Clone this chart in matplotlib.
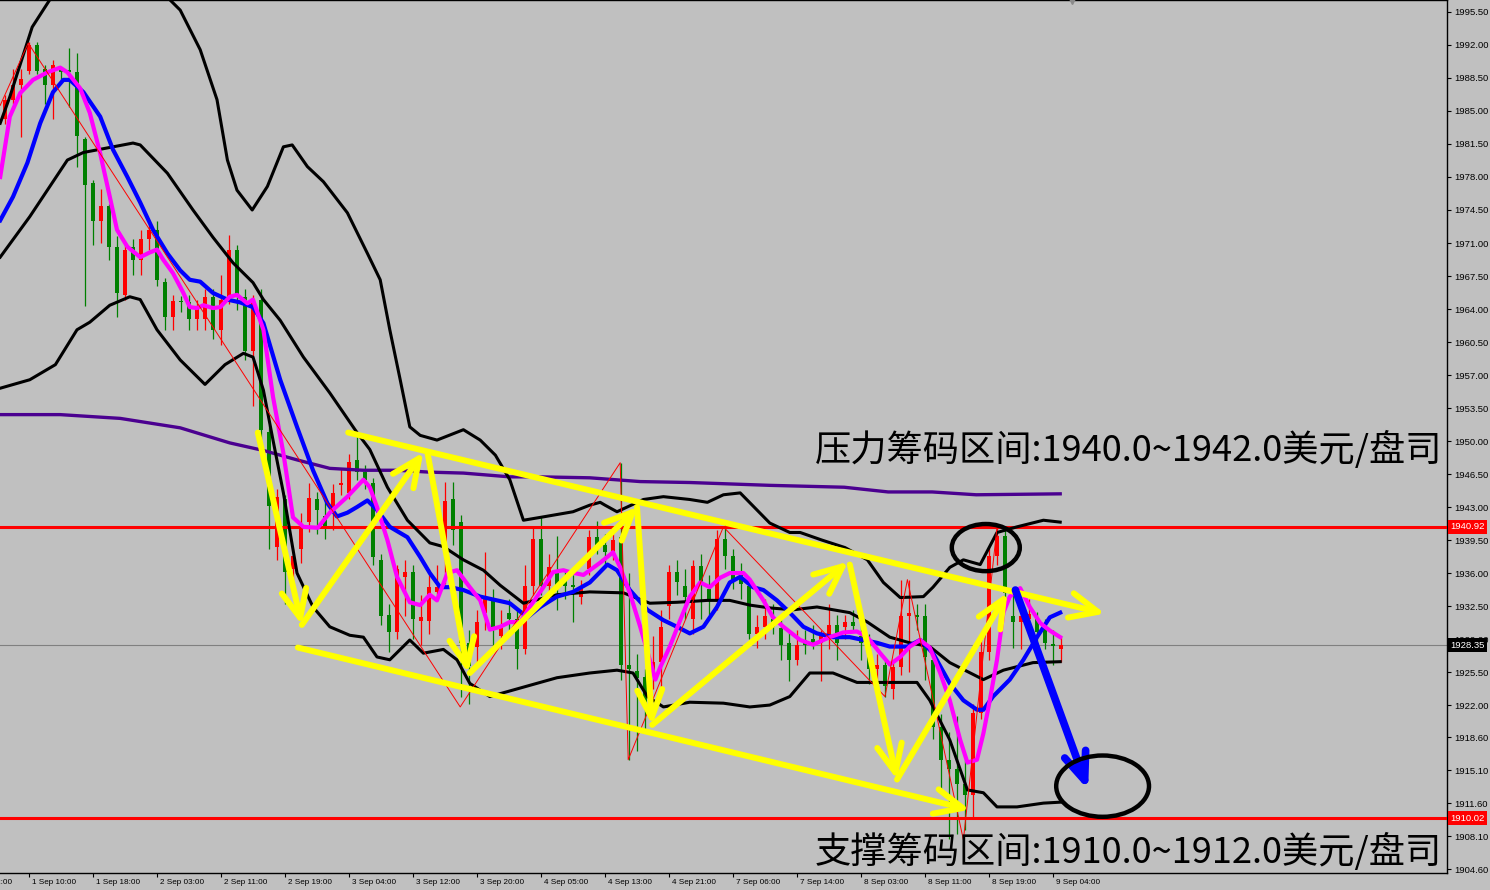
import numpy as np
import matplotlib
matplotlib.use('Agg')
import matplotlib.pyplot as plt
import matplotlib.transforms as mtrans
from matplotlib.patches import Ellipse

# ── candles (hourly bars, index 0..132) ──────────────────────────────────────
OPEN = [1984.1, 1986.2, 1987.8, 1989.2, 1992.0, 1989.4, 1987.8, 1989.4, 1989.3, 1989.1,
        1982.0, 1977.4, 1973.3, 1974.9, 1970.6, 1965.5, 1970.6, 1969.2, 1971.4, 1972.4,
        1966.9, 1963.1, 1964.8, 1964.7, 1962.9, 1962.9, 1965.3, 1961.8, 1965.3, 1970.3,
        1965.3, 1959.5, 1965.0, 1951.0, 1938.8, 1943.8, 1936.4, 1938.5, 1941.4, 1943.8,
        1942.0, 1942.7, 1945.3, 1944.5, 1948.0, 1946.7, 1945.6, 1937.4, 1931.6, 1929.7,
        1935.6, 1936.1, 1930.9, 1930.9, 1934.0, 1938.8, 1943.8, 1941.4, 1928.6, 1928.2,
        1931.8, 1933.2, 1929.3, 1931.8, 1931.1, 1927.9, 1934.6, 1939.6, 1934.6, 1936.1,
        1935.3, 1934.7, 1933.5, 1936.4, 1939.8, 1939.0, 1938.2, 1939.8, 1926.3, 1925.6,
        1925.0, 1925.5, 1926.6, 1932.5, 1936.1, 1934.6, 1931.1, 1936.7, 1934.3, 1933.2,
        1939.6, 1937.8, 1935.8, 1934.6, 1929.5, 1930.3, 1931.1, 1930.2, 1928.6, 1926.8,
        1928.9, 1929.0, 1928.6, 1929.2, 1930.5, 1930.3, 1930.8, 1929.3, 1928.6, 1925.8,
        1926.3, 1923.7, 1926.0, 1931.4, 1931.5, 1931.4, 1926.8, 1919.7, 1916.2, 1915.2,
        1913.6, 1912.5, 1921.2, 1927.6, 1937.8, 1939.9, 1931.4, 1930.8, 1931.1, 1931.1,
        1930.2, 1928.5, 1927.9]
HIGH = [1986.7, 1989.4, 1989.4, 1992.3, 1992.3, 1989.9, 1990.4, 1989.7, 1991.7, 1991.2,
        1982.2, 1977.7, 1976.7, 1975.1, 1971.7, 1970.8, 1971.4, 1972.4, 1973.0, 1973.3,
        1967.3, 1965.5, 1965.4, 1965.5, 1965.0, 1966.1, 1966.1, 1967.6, 1971.9, 1970.8,
        1966.1, 1965.5, 1966.1, 1951.7, 1944.9, 1944.3, 1938.5, 1942.4, 1945.6, 1944.6,
        1943.8, 1945.4, 1947.0, 1948.6, 1950.5, 1947.5, 1946.1, 1938.0, 1932.7, 1936.9,
        1937.4, 1936.9, 1933.7, 1936.4, 1936.9, 1945.7, 1945.7, 1942.2, 1930.0, 1932.1,
        1938.2, 1934.3, 1932.1, 1933.2, 1932.1, 1936.9, 1940.8, 1941.9, 1938.0, 1939.9,
        1936.4, 1935.8, 1935.3, 1940.6, 1941.5, 1940.1, 1940.1, 1947.7, 1936.0, 1927.4,
        1925.8, 1929.3, 1932.1, 1936.9, 1937.4, 1936.4, 1937.4, 1938.0, 1935.8, 1940.6,
        1941.2, 1938.5, 1937.1, 1935.3, 1931.6, 1933.2, 1932.7, 1931.6, 1929.7, 1930.0,
        1930.0, 1930.5, 1930.0, 1932.7, 1931.6, 1931.6, 1932.1, 1930.5, 1929.5, 1927.4,
        1926.8, 1926.8, 1935.3, 1935.3, 1932.7, 1932.7, 1927.4, 1921.0, 1919.1, 1920.8,
        1916.2, 1922.1, 1929.0, 1938.7, 1940.9, 1940.6, 1933.7, 1933.2, 1933.2, 1931.9,
        1931.1, 1930.0, 1929.2]
LOW = [1983.6, 1985.7, 1982.2, 1988.9, 1988.9, 1985.7, 1984.1, 1988.3, 1985.4, 1979.1,
       1964.3, 1970.8, 1971.0, 1969.2, 1963.2, 1965.0, 1967.6, 1967.6, 1970.3, 1966.4,
       1961.8, 1961.8, 1963.7, 1961.8, 1961.8, 1961.8, 1960.8, 1960.2, 1964.5, 1963.9,
       1958.6, 1953.7, 1950.2, 1938.5, 1937.4, 1932.7, 1935.3, 1937.1, 1940.3, 1940.1,
       1939.6, 1940.6, 1944.3, 1943.8, 1945.9, 1944.9, 1936.9, 1930.5, 1927.6, 1929.0,
       1931.4, 1929.0, 1928.4, 1929.5, 1933.2, 1934.8, 1939.0, 1922.9, 1922.1, 1926.3,
       1930.0, 1928.4, 1927.9, 1930.0, 1925.8, 1927.4, 1933.7, 1933.7, 1933.2, 1932.1,
       1933.2, 1930.8, 1932.7, 1935.8, 1938.0, 1936.9, 1937.4, 1924.7, 1916.2, 1917.1,
       1919.4, 1923.7, 1923.7, 1931.1, 1933.7, 1931.1, 1929.5, 1931.1, 1931.6, 1932.1,
       1936.4, 1934.3, 1933.2, 1929.0, 1928.1, 1929.0, 1929.5, 1926.8, 1924.5, 1926.3,
       1927.4, 1927.9, 1924.5, 1927.9, 1926.8, 1929.0, 1929.8, 1926.8, 1924.2, 1923.7,
       1922.9, 1922.6, 1925.2, 1925.5, 1930.0, 1924.7, 1918.4, 1913.1, 1907.8, 1908.3,
       1908.8, 1909.9, 1920.5, 1926.8, 1936.9, 1933.2, 1928.1, 1927.9, 1929.5, 1928.4,
       1927.9, 1926.3, 1926.6]
CLOSE = [1986.2, 1987.8, 1988.4, 1992.0, 1989.2, 1987.8, 1989.9, 1989.1, 1989.1, 1982.3,
         1977.2, 1973.3, 1974.9, 1970.6, 1965.7, 1970.3, 1969.2, 1971.4, 1972.4, 1967.1,
         1963.2, 1964.8, 1964.7, 1962.9, 1964.3, 1965.3, 1961.8, 1965.0, 1970.3, 1965.3,
         1959.5, 1965.0, 1951.2, 1943.1, 1944.1, 1936.1, 1937.8, 1940.9, 1944.0, 1942.7,
         1940.9, 1944.5, 1945.6, 1947.8, 1946.7, 1945.9, 1937.7, 1931.4, 1929.7, 1936.4,
         1936.1, 1931.1, 1931.3, 1934.5, 1934.5, 1943.6, 1940.6, 1928.6, 1926.1, 1930.8,
         1933.2, 1930.3, 1930.3, 1931.1, 1927.9, 1934.6, 1939.6, 1934.6, 1936.6, 1934.6,
         1934.6, 1934.5, 1934.6, 1939.8, 1938.8, 1938.2, 1939.5, 1926.3, 1925.8, 1924.9,
         1921.8, 1926.6, 1930.3, 1936.1, 1935.0, 1933.5, 1936.7, 1935.0, 1933.2, 1939.6,
         1937.8, 1935.3, 1934.8, 1929.5, 1930.3, 1931.4, 1930.3, 1928.4, 1926.8, 1928.4,
         1928.4, 1928.6, 1929.3, 1930.5, 1928.6, 1930.8, 1930.4, 1928.6, 1925.8, 1926.3,
         1924.0, 1926.0, 1931.4, 1931.8, 1931.3, 1927.1, 1919.7, 1916.2, 1915.2, 1913.6,
         1912.5, 1921.2, 1927.6, 1937.8, 1939.9, 1933.9, 1930.8, 1931.4, 1931.7, 1929.7,
         1928.6, 1928.3, 1928.35]

# ── indicator lines (bar index, price) ───────────────────────────────────────
MAG_X = [-0.6, 0.6, 1.9, 3.5, 5.3, 6.9, 7.8, 9.4, 10.6, 11.9, 13.1, 14.0, 15.3, 16.9, 18.1,
         19.0, 19.8, 21.0, 22.3, 23.1, 24.0, 24.8, 26.0, 26.9, 28.1, 29.0, 30.3, 31.0, 32.3,
         33.5, 34.8, 36.0, 37.3, 39.1, 40.6, 42.8, 44.8, 45.6, 46.5, 47.8, 49.0, 50.6, 51.9,
         53.1, 54.0, 55.3, 56.5, 58.1, 59.4, 60.6, 61.9, 63.1, 64.4, 65.6, 67.3, 68.5, 69.8,
         70.6, 72.3, 74.4, 76.0, 76.9, 78.1, 79.4, 80.6, 81.3, 81.9, 83.1, 84.4, 85.6, 86.9,
         88.1, 89.4, 90.6, 92.3, 93.1, 94.8, 96.0, 97.3, 99.4, 101.0, 103.1, 104.8, 106.5,
         107.8, 109.4, 110.6, 111.9, 113.1, 114.4, 115.6, 116.9, 118.1, 119.4, 120.3, 121.5,
         122.3, 123.1, 124.0, 124.8, 125.6, 126.9, 128.1, 129.4, 130.6, 131.9]
MAG_Y = [1978.0, 1984.4, 1986.9, 1988.3, 1989.1, 1989.6, 1989.1, 1987.4, 1984.8, 1980.5,
         1975.9, 1972.4, 1970.6, 1969.5, 1970.0, 1970.3, 1969.2, 1967.8, 1965.7, 1964.2,
         1964.1, 1964.4, 1964.1, 1964.2, 1965.3, 1965.5, 1964.6, 1965.0, 1961.8, 1954.7,
         1948.7, 1941.9, 1940.9, 1940.8, 1942.4, 1944.1, 1945.9, 1945.1, 1943.0, 1939.5,
         1935.6, 1932.9, 1932.6, 1933.7, 1933.1, 1936.0, 1936.3, 1934.5, 1933.1, 1930.0,
         1930.3, 1930.8, 1930.8, 1932.4, 1934.5, 1936.1, 1936.3, 1936.1, 1935.8, 1937.1,
         1938.2, 1936.6, 1933.9, 1930.3, 1926.8, 1924.7, 1926.0, 1928.2, 1931.0, 1933.5,
         1935.0, 1934.5, 1935.5, 1936.0, 1936.0, 1935.3, 1933.1, 1931.3, 1930.3, 1928.9,
         1928.4, 1929.2, 1929.7, 1929.8, 1929.2, 1927.5, 1926.3, 1927.1, 1928.2, 1928.9,
         1928.1, 1925.4, 1922.5, 1918.3, 1915.9, 1916.2, 1919.0, 1922.5, 1926.8, 1931.8,
         1933.5, 1934.4, 1932.4, 1930.7, 1929.9, 1929.2]

BLUE_X = [-0.6, 1.0, 2.8, 4.4, 6.0, 7.3, 8.1, 9.8, 11.9, 13.5, 15.3, 16.9, 18.5, 20.3, 21.9,
          23.1, 24.4, 26.0, 27.8, 29.4, 31.0, 32.3, 34.4, 36.5, 38.5, 40.3, 41.5, 42.8, 44.0,
          45.3, 46.5, 48.1, 50.3, 51.9, 53.1, 54.4, 55.6, 57.3, 59.4, 61.5, 63.1, 65.3, 66.9,
          69.0, 71.0, 73.1, 75.3, 76.5, 78.1, 80.3, 82.3, 84.0, 85.6, 87.3, 89.0, 90.6, 91.9,
          93.5, 94.8, 96.5, 98.1, 99.8, 101.5, 103.5, 105.6, 107.3, 109.0, 110.6, 112.8, 114.4,
          116.0, 118.1, 119.8, 121.5, 122.3, 123.5, 125.6, 127.3, 129.0, 130.6, 131.9]
BLUE_Y = [1973.4, 1975.9, 1979.5, 1983.7, 1987.0, 1988.3, 1988.3, 1987.0, 1984.4, 1980.9,
          1978.0, 1975.3, 1972.4, 1969.9, 1968.1, 1967.1, 1966.9, 1965.7, 1965.0, 1964.7,
          1964.2, 1962.5, 1956.5, 1951.5, 1946.9, 1943.4, 1942.0, 1942.4, 1943.0, 1943.7,
          1942.7, 1940.9, 1939.8, 1937.7, 1936.0, 1934.5, 1934.5, 1934.2, 1933.5, 1933.1,
          1932.8, 1931.3, 1932.4, 1933.5, 1934.0, 1935.0, 1936.9, 1936.3, 1934.2, 1932.1,
          1931.0, 1930.3, 1929.6, 1930.3, 1932.4, 1935.0, 1935.6, 1934.5, 1934.2, 1933.1,
          1931.8, 1930.3, 1929.6, 1929.2, 1929.2, 1928.9, 1928.6, 1928.2, 1928.2, 1928.9,
          1927.5, 1924.3, 1922.5, 1921.5, 1921.5, 1922.9, 1924.7, 1926.8, 1929.2, 1931.3,
          1931.8]

PURPLE_X = [-0.6, 6.9, 14.4, 21.9, 28.1, 32.3, 36.5, 40.6, 44.8, 49.0, 53.1, 57.3, 63.1,
            66.9, 73.1, 79.4, 85.6, 95.6, 104.9, 110.4, 115.9, 121.4, 131.9]
PURPLE_Y = [1952.8, 1952.8, 1952.4, 1951.4, 1949.8, 1949.0, 1948.0, 1947.1, 1946.9, 1946.9,
            1946.7, 1946.6, 1946.2, 1946.2, 1946.1, 1945.7, 1945.6, 1945.3, 1945.1, 1944.6,
            1944.6, 1944.3, 1944.4]

BB_UP_X = [-0.6, 0.6, 3.4, 5.6, 8.0, 12.0, 16.0, 19.0, 20.6, 21.9, 24.4, 26.5, 27.8, 29.0,
           30.9, 32.8, 34.8, 35.9, 37.8, 39.8, 42.8, 45.3, 46.9, 48.1, 49.4, 50.6, 51.9, 54.0,
           57.3, 59.4, 61.3, 63.1, 64.8, 66.9, 71.0, 73.1, 74.4, 75.0, 76.5, 79.8, 82.3, 85.6,
           87.8, 89.8, 91.9, 95.6, 98.1, 99.4, 102.1, 105.0, 107.8, 109.8, 111.9, 114.8, 116.0,
           118.1, 119.8, 121.9, 124.0, 126.5, 129.8, 131.9]
BB_UP_Y = [1983.7, 1986.5, 1993.9, 1996.8, 2002.0, 2006.0, 2004.0, 1999.0, 1996.8, 1995.7,
           1991.5, 1986.2, 1979.8, 1976.6, 1974.5, 1977.0, 1981.2, 1981.4, 1979.1, 1977.5,
           1974.2, 1969.9, 1967.1, 1961.8, 1956.5, 1951.5, 1950.6, 1950.1, 1951.2, 1950.1,
           1948.5, 1945.9, 1941.6, 1941.9, 1942.5, 1943.2, 1943.5, 1943.2, 1942.5, 1943.8,
           1944.1, 1943.8, 1943.5, 1944.3, 1944.5, 1941.3, 1940.3, 1940.3, 1939.5, 1938.7,
           1937.4, 1935.0, 1933.4, 1933.5, 1934.5, 1936.6, 1937.4, 1936.9, 1940.3, 1940.9,
           1941.6, 1941.4]

BB_MID_X = [-0.6, 3.1, 7.8, 9.8, 16.0, 16.9, 20.3, 23.5, 26.0, 28.5, 31.0, 32.3, 34.4, 37.3,
            40.6, 44.0, 45.6, 47.8, 50.3, 53.1, 54.8, 57.3, 59.8, 61.9, 64.8, 69.0, 73.1, 77.3,
            80.6, 84.0, 87.8, 90.6, 93.1, 95.6, 98.5, 101.5, 105.6, 107.8, 110.6, 113.1, 115.6,
            118.1, 122.3, 124.8, 128.5, 131.9]
BB_MID_Y = [1969.5, 1973.8, 1979.8, 1980.6, 1981.6, 1981.4, 1978.4, 1974.5, 1971.6, 1968.9,
            1966.8, 1965.0, 1962.8, 1958.9, 1955.1, 1950.9, 1949.1, 1945.1, 1941.6, 1939.2,
            1938.8, 1937.4, 1936.3, 1934.7, 1932.8, 1933.7, 1934.0, 1933.9, 1932.8, 1932.9,
            1933.1, 1933.1, 1932.6, 1932.3, 1932.1, 1932.4, 1931.8, 1930.8, 1929.2, 1928.6,
            1928.2, 1926.5, 1924.7, 1925.7, 1926.5, 1926.6]

BB_LOW_X = [-0.6, 3.1, 6.3, 9.0, 10.6, 13.1, 15.6, 16.9, 19.0, 21.9, 25.0, 27.5, 29.8, 31.0,
            32.3, 33.5, 34.8, 36.5, 38.5, 40.6, 43.1, 44.8, 46.5, 48.1, 50.6, 52.3, 54.8, 56.5,
            58.1, 60.6, 64.8, 69.0, 73.1, 76.5, 78.5, 80.3, 82.3, 85.6, 89.8, 93.1, 95.6, 98.1,
            100.6, 103.5, 106.5, 109.8, 114.0, 115.6, 118.1, 120.3, 122.3, 124.0, 126.5, 129.8,
            131.9]
BB_LOW_Y = [1955.6, 1956.5, 1958.1, 1961.8, 1962.6, 1964.4, 1965.3, 1965.0, 1961.8, 1958.6,
            1956.0, 1958.1, 1959.3, 1958.9, 1955.4, 1950.1, 1944.5, 1936.0, 1932.4, 1930.3,
            1929.4, 1929.2, 1927.1, 1926.8, 1928.9, 1927.5, 1927.9, 1926.8, 1924.3, 1922.9,
            1923.9, 1924.9, 1925.4, 1925.7, 1925.4, 1922.9, 1921.8, 1922.3, 1922.2, 1921.8,
            1922.0, 1922.9, 1925.4, 1925.4, 1924.4, 1924.4, 1924.4, 1922.5, 1918.3, 1913.0,
            1912.7, 1911.2, 1911.2, 1911.6, 1911.7]

ZIGZAG_X = [-0.6, 2.9, 56.9, 76.9, 77.9, 89.8, 110.0, 112.8, 119.8, 124.0]
ZIGZAG_Y = [1985.6, 1992.2, 1921.8, 1947.7, 1916.2, 1940.9, 1922.9, 1935.3, 1907.7, 1940.9]

# ── drawn annotations (bar0, price0, bar1, price1) ───────────────────────────
YELLOW_ARROWS = [
    (42.9, 1950.9, 137.5, 1931.7),   # channel top
    (36.6, 1928.1, 120.6, 1910.9),   # channel bottom
    (31.6, 1950.9, 37.1, 1930.5),
    (37.1, 1930.5, 52.3, 1948.8),
    (52.8, 1948.8, 57.9, 1925.4),
    (58.1, 1925.4, 79.1, 1943.0),
    (79.0, 1943.0, 80.9, 1919.9),
    (80.9, 1919.9, 105.4, 1937.2),
    (105.6, 1936.9, 111.5, 1914.1),
    (111.5, 1914.1, 125.3, 1933.9),
]
BLUE_ARROW = (126.3, 1934.2, 135.4, 1913.0)
CIRCLES = [(122.6, 1938.7, 8.5, 5.0), (137.2, 1913.4, 11.6, 6.5)]

RESIST = 1940.92
SUPPORT = 1910.02
LAST = 1928.35

YTICKS = [1995.5, 1992.0, 1988.5, 1985.0, 1981.5, 1978.0, 1974.5, 1971.0, 1967.5, 1964.0,
          1960.5, 1957.0, 1953.5, 1950.0, 1946.5, 1943.0, 1939.5, 1936.0, 1932.5, 1929.0,
          1925.5, 1922.0, 1918.6, 1915.1, 1911.6, 1908.1, 1904.6]
XTICK_BARS = [3, 11, 19, 27, 35, 43, 51, 59, 67, 75, 83, 91, 99, 107, 115, 123, 131]
XTICK_LABELS = ["1 Sep 10:00", "1 Sep 18:00", "2 Sep 03:00", "2 Sep 11:00", "2 Sep 19:00",
                "3 Sep 04:00", "3 Sep 12:00", "3 Sep 20:00", "4 Sep 05:00", "4 Sep 13:00",
                "4 Sep 21:00", "7 Sep 06:00", "7 Sep 14:00", "8 Sep 03:00", "8 Sep 11:00",
                "8 Sep 19:00", "9 Sep 04:00"]

TEXT_TOP = "压力筹码区间:1940.0~1942.0美元/盘司"
TEXT_BOTTOM = "支撑筹码区间:1910.0~1912.0美元/盘司"

# ── figure ───────────────────────────────────────────────────────────────────
plt.rcParams['font.family'] = ['Liberation Sans', 'DejaVu Sans']
BG = '#C0C0C0'
fig = plt.figure(figsize=(14.9, 8.9), dpi=100, facecolor=BG)
ax = fig.add_axes([0, 17 / 890, 1447 / 1490, 873 / 890], facecolor=BG)
ax.set_xlim(-0.625, 180.25)
ax.set_ylim(1904.19, 1996.77)

# candles: red = rising, green = falling
o = np.array(OPEN); c = np.array(CLOSE)
x = np.arange(len(o))
cols = np.where(c >= o, '#FF0000', '#008000')
ax.vlines(x, LOW, HIGH, colors=cols, lw=0.9, zorder=2)
ax.bar(x, np.maximum(np.abs(c - o), 0.12), bottom=np.minimum(o, c), width=0.62,
       color=cols, linewidth=0, zorder=2.1)

ax.axhline(LAST, color='#808080', lw=0.8, zorder=1.5)
ax.axhline(RESIST, color='#FF0000', lw=2.2, zorder=3)
ax.axhline(SUPPORT, color='#FF0000', lw=2.2, zorder=3)

ax.plot(PURPLE_X, PURPLE_Y, color='#4B0090', lw=2.4, zorder=4)
for bx, by in [(BB_UP_X, BB_UP_Y), (BB_MID_X, BB_MID_Y), (BB_LOW_X, BB_LOW_Y)]:
    ax.plot(bx, by, color='black', lw=2.2, zorder=4)
ax.plot(BLUE_X, BLUE_Y, color='#0000FF', lw=3.0, zorder=5)
ax.plot(MAG_X, MAG_Y, color='#FF00FF', lw=3.0, zorder=6)
ax.plot(ZIGZAG_X, ZIGZAG_Y, color='#FF0000', lw=0.7, zorder=6.5)

for x0, y0, x1, y1 in YELLOW_ARROWS:
    ax.annotate('', xy=(x1, y1), xytext=(x0, y0),
                arrowprops=dict(arrowstyle='->,head_length=1.0,head_width=0.45',
                                color='#FFFF00', lw=4.3, shrinkA=0, shrinkB=0,
                                mutation_scale=20), zorder=8)
x0, y0, x1, y1 = BLUE_ARROW
ax.annotate('', xy=(x1, y1), xytext=(x0, y0),
            arrowprops=dict(arrowstyle='->,head_length=1.0,head_width=0.4',
                            color='#0000FF', lw=5.5, shrinkA=0, shrinkB=0,
                            mutation_scale=20), zorder=9)
for cx, cy, w, h in CIRCLES:
    ax.add_patch(Ellipse((cx, cy), w, h, fill=False, ec='black', lw=3.2, zorder=9))

# axes styling
for s in ['left']:
    ax.spines[s].set_visible(False)
for s in ['top', 'right', 'bottom']:
    ax.spines[s].set_color('black')
    ax.spines[s].set_linewidth(1.0)

ax.yaxis.tick_right()
ax.set_yticks(YTICKS)
ax.set_yticklabels([f'{v:.2f}' for v in YTICKS])
ax.tick_params(axis='y', length=3, pad=2, labelsize=6.8, direction='out', width=0.8)

ax.set_xticks(XTICK_BARS)
ax.set_xticklabels(XTICK_LABELS, ha='left')
ax.tick_params(axis='x', length=3, pad=1.5, labelsize=5.9, direction='out', width=0.8)
shift = mtrans.ScaledTranslation(3 / 100, 0, fig.dpi_scale_trans)
for lab in ax.get_xticklabels():
    lab.set_transform(lab.get_transform() + shift)
ax.text(-5, 0, "1 Sep 02:00", fontsize=5.9, ha='left', va='top', clip_on=False,
        transform=ax.get_xaxis_transform()
        + mtrans.ScaledTranslation(3 / 100, -4.5 / 72, fig.dpi_scale_trans))

# price tags on the right scale
for val, fc in [(RESIST, '#FF0000'), (SUPPORT, '#FF0000'), (LAST, '#000000')]:
    ax.text(1.0025, val, f'{val:.2f}', transform=ax.get_yaxis_transform(),
            ha='left', va='center', fontsize=6.8, color='white', clip_on=False,
            bbox=dict(boxstyle='square,pad=0.25', fc=fc, ec='none'), zorder=10)

ax.plot([133.4], [1996.77], marker='v', color='#8A8A8A', ms=6, clip_on=False, zorder=12)

# chinese notes
cjk = ['Noto Sans CJK SC', 'DejaVu Sans']
t1 = ax.text(101.25, 1949.05, TEXT_TOP, fontsize=24, family=cjk, ha='left', va='center',
             color='black', zorder=11)
t2 = ax.text(101.25, 1906.4, TEXT_BOTTOM, fontsize=24, family=cjk, ha='left', va='center',
             color='black', zorder=11)
fig.canvas.draw()
for t in (t1, t2):
    w = t.get_window_extent().width
    t.set_fontsize(24 * 627 / w)

fig.savefig('out.png', dpi=100, facecolor=BG)
